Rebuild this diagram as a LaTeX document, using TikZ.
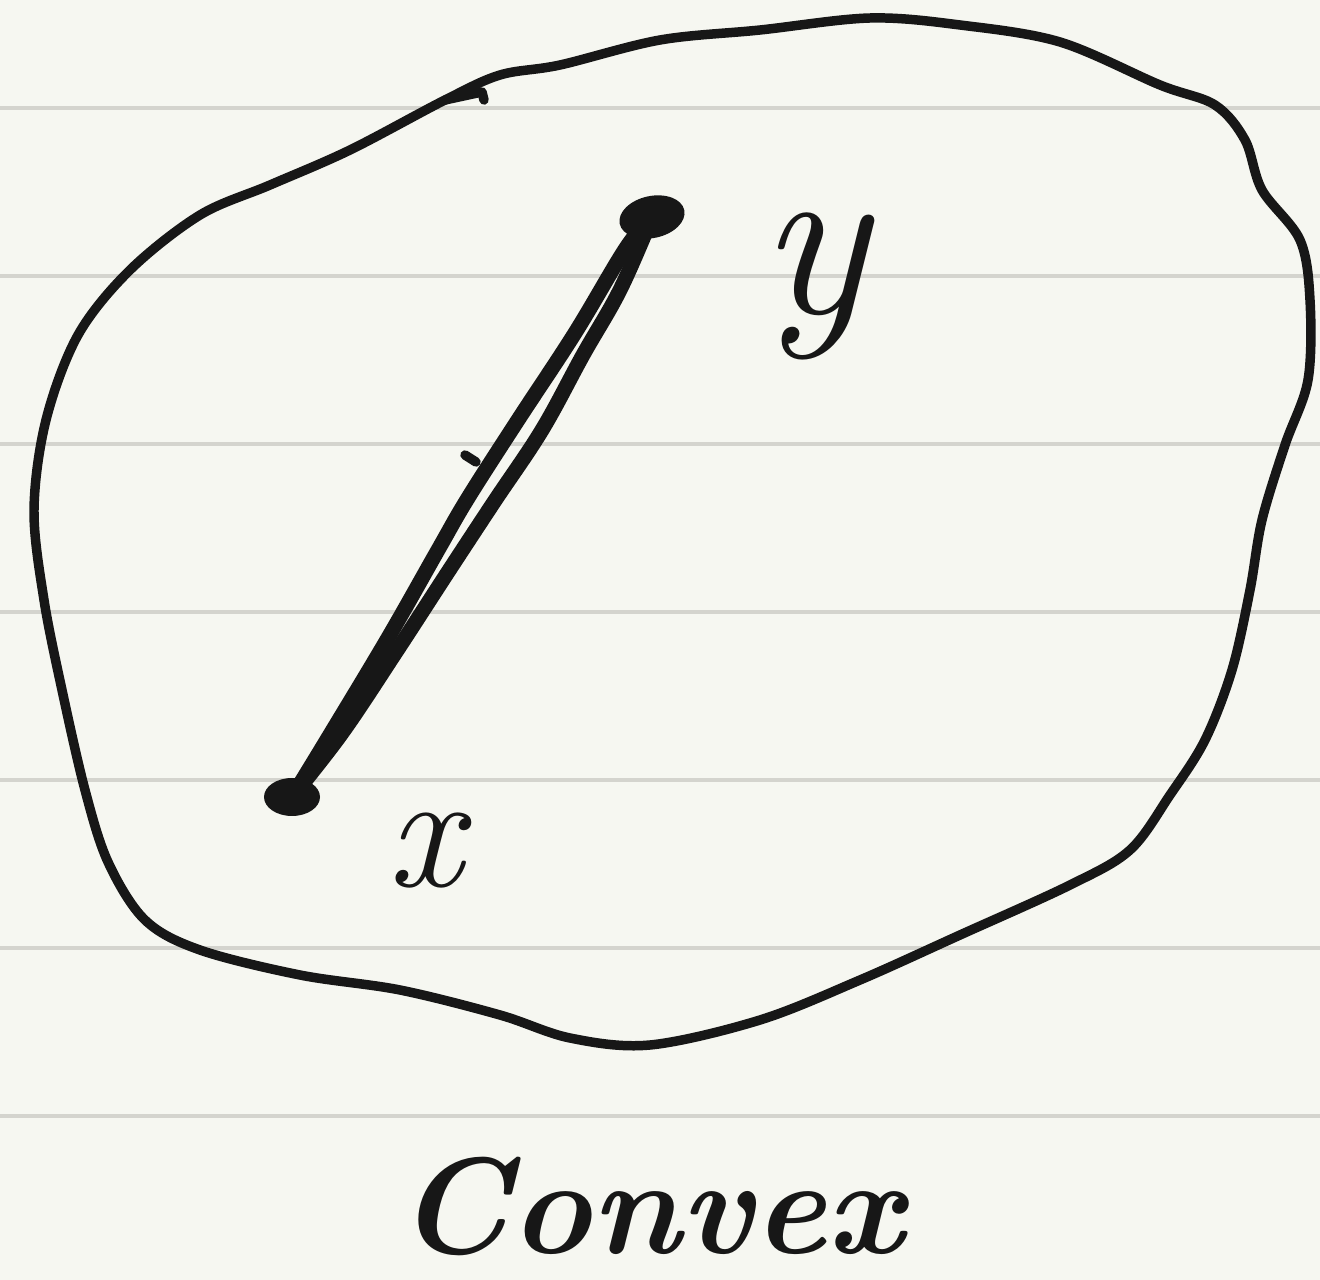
\documentclass[tikz,border=0pt]{standalone}
\begin{document}
\begin{tikzpicture}[x=0.02cm,y=-0.02cm,
  ink/.style={draw=inkc,line width=5.4pt,line cap=round,line join=round},
  seg/.style={draw=inkc,line width=8.5pt,line cap=round,line join=round},
  rule/.style={draw=rulec,line width=2.3pt},
  lbl/.style={text=inkc,inner sep=0pt}]
\definecolor{paper}{HTML}{F6F7F1}
\definecolor{rulec}{HTML}{D4D4CE}
\definecolor{inkc}{HTML}{171717}
\fill[paper] (0,0) rectangle (1320,1280);
\useasboundingbox (0,0) rectangle (1320,1280);
% ruled lines
\foreach \yy in {108,276,444,612,780,948,1116}
  \draw[rule] (0,\yy) -- (1320,\yy);
% blob outline (convex set)
\draw[ink] plot[smooth cycle,tension=0.55] coordinates {
 (445,100) (500,75) (560,65) (660,40) (760,30) (870,18) (960,25) (1060,42)
 (1160,85) (1215,105) (1245,140) (1262,190) (1300,240) (1310,300) (1308,380)
 (1285,445) (1262,520) (1250,590) (1232,670) (1205,740) (1170,795) (1130,850)
 (1070,885) (960,935) (860,980) (760,1020) (650,1045) (570,1038) (500,1015)
 (400,990) (300,975) (200,950) (145,920) (108,862) (85,790) (62,690)
 (44,600) (34,510) (46,420) (78,335) (130,270) (200,215) (270,185) (350,150)};
\draw[ink] (445,100) -- (482,92) -- (484,100);
% points
\coordinate (px) at (292,797);
\coordinate (py) at (652,217);
\fill[inkc] (px) ellipse [x radius=28, y radius=19];
\fill[inkc,rotate around={12:(py)}] (py) ellipse [x radius=33, y radius=21];
% segment x--y (drawn twice by hand)
\draw[seg] plot[smooth,tension=0.6] coordinates {
 (px) (328,738) (388,638) (438,550) (468,498) (518,420) (575,333) (626,248) (py)};
\draw[seg] plot[smooth,tension=0.6] coordinates {
 (px) (342,733) (396,652) (448,572) (494,502) (542,430) (583,355) (620,290) (py)};
\draw[ink] (465,455) -- (476,462);
\draw[ink] (332,732) -- (340,736);
% labels
\node[lbl,anchor=base] (ylab) at (814,314) {\fontsize{130}{130}\selectfont\itshape y};
\node[lbl,anchor=base] (xlab) at (425,887) {\fontsize{95}{95}\selectfont\itshape x};
\node[lbl,anchor=base] (title) at (650,1253) {\fontsize{78}{78}\selectfont\bfseries\itshape Convex};
\end{tikzpicture}
\end{document}
